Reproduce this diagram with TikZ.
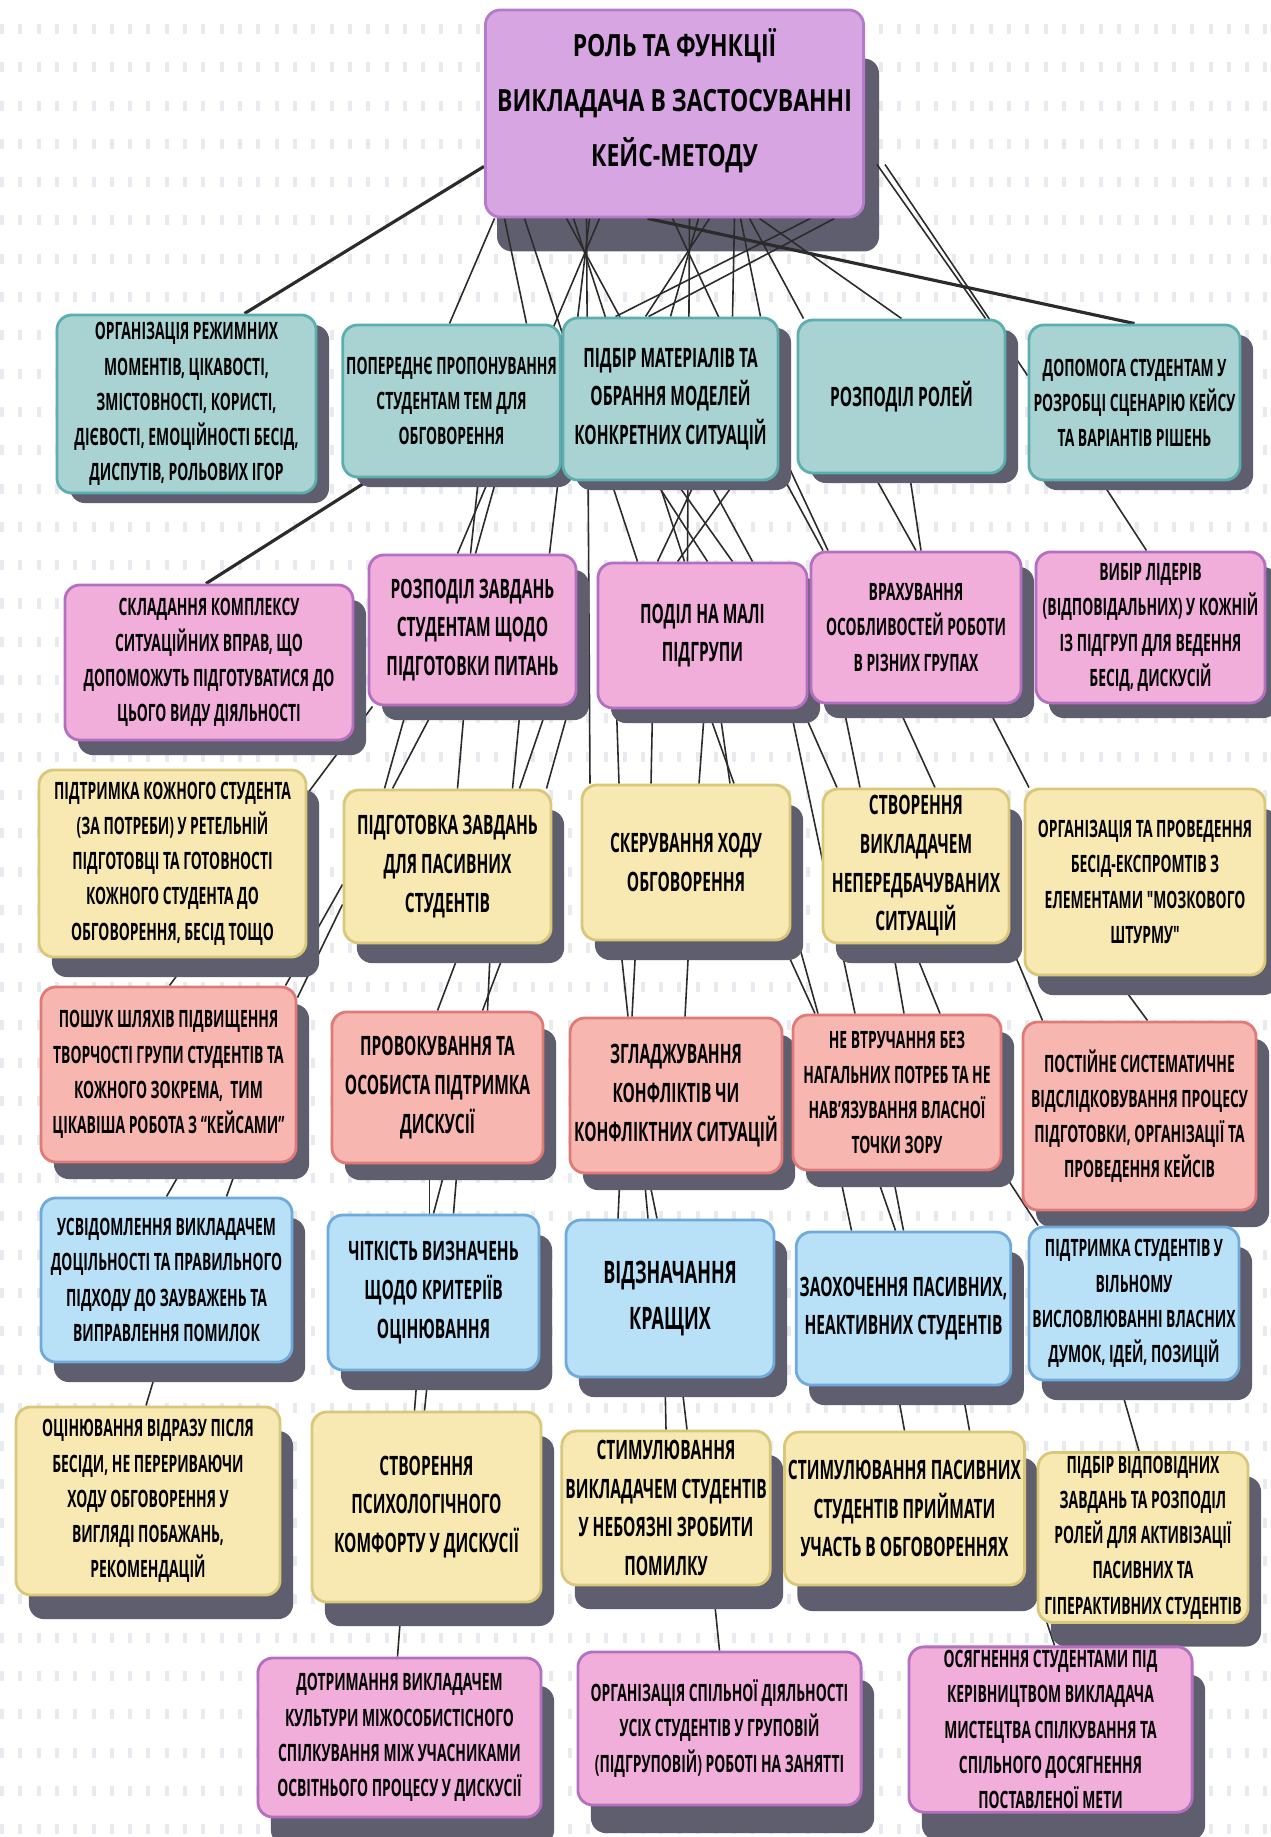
\documentclass[tikz,border=0pt]{standalone}
\usepackage{fontspec}
\newfontfamily\cardfamily{Open Sans}[FakeStretch=0.58]
\newfontfamily\headfamily{Open Sans}[FakeStretch=0.75]
\usetikzlibrary{calc,shadows}

\pgfdeclarelayer{back}
\pgfdeclarelayer{links}
\pgfsetlayers{back,links,main}

\definecolor{rootfill}{HTML}{D6A5E2}
\definecolor{rootline}{HTML}{B57BCB}
\definecolor{tealfill}{HTML}{A9D3D3}
\definecolor{tealline}{HTML}{5DAFAF}
\definecolor{pinkfill}{HTML}{F1AEDA}
\definecolor{pinkline}{HTML}{B56FC0}
\definecolor{sandfill}{HTML}{F8E9B3}
\definecolor{sandline}{HTML}{D9C77A}
\definecolor{coralfill}{HTML}{F7B7B0}
\definecolor{coralline}{HTML}{E07A78}
\definecolor{skyfill}{HTML}{B8E0F7}
\definecolor{skyline}{HTML}{6FAADB}
\definecolor{shadowgray}{HTML}{5E5E6E}
\definecolor{tickgray}{HTML}{E8EAF0}
\definecolor{linkgray}{HTML}{2B2B2B}

\tikzset{
  card/.style={rounded corners=0.15cm, line width=0.8pt, align=center, inner sep=1pt,
    font=\cardfamily\bfseries\fontsize{6.8}{10}\selectfont},
  bigtext/.style={font=\cardfamily\bfseries\fontsize{7.6}{11}\selectfont},
  hugetext/.style={font=\cardfamily\bfseries\fontsize{8.8}{12.8}\selectfont},
  dims/.style 2 args={minimum width=#1cm, minimum height=#2cm},
  castshadow/.style={drop shadow={shadow xshift=0.13cm, shadow yshift=-#1cm,
    fill=shadowgray, opacity=1}},
  rolebox/.style={rounded corners=0.15cm, line width=0.8pt, align=center,
    fill=rootfill, draw=rootline, text depth=0.32cm,
    font=\headfamily\bfseries\fontsize{8.7}{15.6}\selectfont},
  tealcard/.style={card, fill=tealfill, draw=tealline, castshadow=#1},
  tealcard/.default=0.10,
  pinkcard/.style={card, fill=pinkfill, draw=pinkline, castshadow=#1},
  pinkcard/.default=0.15,
  sandcard/.style={card, fill=sandfill, draw=sandline, castshadow=#1},
  sandcard/.default=0.20,
  coralcard/.style={card, fill=coralfill, draw=coralline, castshadow=#1},
  coralcard/.default=0.17,
  skycard/.style={card, fill=skyfill, draw=skyline, castshadow=#1},
  skycard/.default=0.20,
  link/.style={draw=linkgray, line width=0.45pt},
  heavy/.style={link, line width=0.9pt},
  ticks/.style={draw=tickgray, line width=0.1cm, dash pattern=on 0.04cm off 0.143cm},
}

\begin{document}
\begin{tikzpicture}[x=0.01cm, y=-0.01cm]
  \useasboundingbox (0,0) rectangle (1271,1837);

  % Title
  \node[rolebox, dims={3.69}{2.07}] (root) at (674.5,113.5)
    {РОЛЬ ТА ФУНКЦІЇ\\ВИКЛАДАЧА В ЗАСТОСУВАННІ\\КЕЙС-МЕТОДУ};

  % Row 1
  \node[tealcard, dims={2.59}{1.78}] (a1) at (186.5,404)
    {ОРГАНІЗАЦІЯ РЕЖИМНИХ\\МОМЕНТІВ, ЦІКАВОСТІ,\\ЗМІСТОВНОСТІ, КОРИСТІ,\\ДІЄВОСТІ, ЕМОЦІЙНОСТІ БЕСІД,\\ДИСПУТІВ, РОЛЬОВИХ ІГОР};
  \node[tealcard, dims={2.15}{1.52}] (a2) at (451.5,401)
    {ПОПЕРЕДНЄ ПРОПОНУВАННЯ\\СТУДЕНТАМ ТЕМ ДЛЯ\\ОБГОВОРЕННЯ};
  \node[tealcard, bigtext, dims={2.15}{1.62}] (a3) at (670.5,399)
    {ПІДБІР МАТЕРІАЛІВ ТА\\ОБРАННЯ МОДЕЛЕЙ\\КОНКРЕТНИХ СИТУАЦІЙ};
  \node[tealcard, bigtext, dims={2.07}{1.53}] (a4) at (901.5,396.5)
    {РОЗПОДІЛ РОЛЕЙ};
  \node[tealcard, dims={2.11}{1.55}] (a5) at (1134.5,402.5)
    {ДОПОМОГА СТУДЕНТАМ У\\РОЗРОБЦІ СЦЕНАРІЮ КЕЙСУ\\ТА ВАРІАНТІВ РІШЕНЬ};

  % Row 2
  \node[pinkcard, dims={2.88}{1.55}] (b1) at (209,662.5)
    {СКЛАДАННЯ КОМПЛЕКСУ\\СИТУАЦІЙНИХ ВПРАВ, ЩО\\ДОПОМОЖУТЬ ПІДГОТУВАТИСЯ ДО\\ЦЬОГО ВИДУ ДІЯЛЬНОСТІ};
  \node[pinkcard, bigtext, dims={2.07}{1.50}] (b2) at (472.5,630)
    {РОЗПОДІЛ ЗАВДАНЬ\\СТУДЕНТАМ ЩОДО\\ПІДГОТОВКИ ПИТАНЬ};
  \node[pinkcard, bigtext, dims={2.09}{1.45}] (b3) at (702.5,635.5)
    {ПОДІЛ НА МАЛІ\\ПІДГРУПИ};
  \node[pinkcard, dims={2.10}{1.51}] (b4) at (916,627.5)
    {ВРАХУВАННЯ\\ОСОБЛИВОСТЕЙ РОБОТИ\\В РІЗНИХ ГРУПАХ};
  \node[pinkcard, dims={2.29}{1.51}] (b5) at (1150.5,627.5)
    {ВИБІР ЛІДЕРІВ\\(ВІДПОВІДАЛЬНИХ) У КОЖНІЙ\\ІЗ ПІДГРУП ДЛЯ ВЕДЕННЯ\\БЕСІД, ДИСКУСІЙ};

  % Row 3
  \node[sandcard, dims={2.67}{1.87}] (c1) at (172.5,863.5)
    {ПІДТРИМКА КОЖНОГО СТУДЕНТА\\(ЗА ПОТРЕБИ) У РЕТЕЛЬНІЙ\\ПІДГОТОВЦІ ТА ГОТОВНОСТІ\\КОЖНОГО СТУДЕНТА ДО\\ОБГОВОРЕННЯ, БЕСІД ТОЩО};
  \node[sandcard, bigtext, dims={2.07}{1.53}] (c2) at (447.5,866.5)
    {ПІДГОТОВКА ЗАВДАНЬ\\ДЛЯ ПАСИВНИХ\\СТУДЕНТІВ};
  \node[sandcard, bigtext, dims={2.08}{1.55}] (c3) at (686,862.5)
    {СКЕРУВАННЯ ХОДУ\\ОБГОВОРЕННЯ};
  \node[sandcard, bigtext, dims={1.86}{1.54}] (c4) at (916,866)
    {СТВОРЕННЯ\\ВИКЛАДАЧЕМ\\НЕПЕРЕДБАЧУВАНИХ\\СИТУАЦІЙ};
  \node[sandcard, dims={2.40}{1.86}] (c5) at (1145,882)
    {ОРГАНІЗАЦІЯ ТА ПРОВЕДЕННЯ\\БЕСІД-ЕКСПРОМТІВ З\\ЕЛЕМЕНТАМИ "МОЗКОВОГО\\ШТУРМУ"};

  % Row 4
  \node[coralcard, dims={2.55}{1.75}] (d1) at (168.5,1074.5)
    {ПОШУК ШЛЯХІВ ПІДВИЩЕННЯ\\ТВОРЧОСТІ ГРУПИ СТУДЕНТІВ ТА\\КОЖНОГО ЗОКРЕМА,~ ТИМ\\ЦІКАВІША РОБОТА З “КЕЙСАМИ”};
  \node[coralcard, bigtext, dims={2.11}{1.51}] (d2) at (437.5,1087.5)
    {ПРОВОКУВАННЯ ТА\\ОСОБИСТА ПІДТРИМКА\\ДИСКУСІЇ};
  \node[coralcard, bigtext, dims={2.12}{1.55}] (d3) at (676,1095.5)
    {ЗГЛАДЖУВАННЯ\\КОНФЛІКТІВ ЧИ\\КОНФЛІКТНИХ СИТУАЦІЙ};
  \node[coralcard, dims={2.08}{1.55}] (d4) at (897,1092.5)
    {НЕ ВТРУЧАННЯ БЕЗ\\НАГАЛЬНИХ ПОТРЕБ ТА НЕ\\НАВ’ЯЗУВАННЯ ВЛАСНОЇ\\ТОЧКИ ЗОРУ};
  \node[coralcard, dims={2.33}{1.88}] (d5) at (1139.5,1116)
    {ПОСТІЙНЕ СИСТЕМАТИЧНЕ\\ВІДСЛІДКОВУВАННЯ ПРОЦЕСУ\\ПІДГОТОВКИ, ОРГАНІЗАЦІЇ ТА\\ПРОВЕДЕННЯ КЕЙСІВ};

  % Row 5
  \node[skycard, dims={2.51}{1.64}] (e1) at (166.5,1280)
    {УСВІДОМЛЕННЯ ВИКЛАДАЧЕМ\\ДОЦІЛЬНОСТІ ТА ПРАВИЛЬНОГО\\ПІДХОДУ ДО ЗАУВАЖЕНЬ ТА\\ВИПРАВЛЕННЯ ПОМИЛОК};
  \node[skycard, bigtext, dims={2.11}{1.55}] (e2) at (433.5,1292.5)
    {ЧІТКІСТЬ ВИЗНАЧЕНЬ\\ЩОДО КРИТЕРІЇВ\\ОЦІНЮВАННЯ};
  \node[skycard, hugetext, dims={2.08}{1.57}] (e3) at (670,1298.5)
    {ВІДЗНАЧАННЯ\\КРАЩИХ};
  \node[skycard, bigtext, dims={2.11}{1.53}] (e4) at (903.5,1308.5)
    {ЗАОХОЧЕННЯ ПАСИВНИХ,\\НЕАКТИВНИХ СТУДЕНТІВ};
  \node[skycard, dims={2.10}{1.53}] (e5) at (1134,1303.5)
    {ПІДТРИМКА СТУДЕНТІВ У\\ВІЛЬНОМУ\\ВИСЛОВЛЮВАННІ ВЛАСНИХ\\ДУМОК, ІДЕЙ, ПОЗИЦІЙ};

  % Row 6
  \node[sandcard=0.24, dims={2.64}{1.88}] (f1) at (148,1501)
    {ОЦІНЮВАННЯ ВІДРАЗУ ПІСЛЯ\\БЕСІДИ, НЕ ПЕРЕРИВАЮЧИ\\ХОДУ ОБГОВОРЕННЯ У\\ВИГЛЯДІ ПОБАЖАНЬ,\\РЕКОМЕНДАЦІЙ};
  \node[sandcard=0.24, bigtext, dims={2.29}{1.90}] (f2) at (426.5,1507)
    {СТВОРЕННЯ\\ПСИХОЛОГІЧНОГО\\КОМФОРТУ У ДИСКУСІЇ};
  \node[sandcard=0.24, bigtext, dims={2.08}{1.54}] (f3) at (666,1508)
    {СТИМУЛЮВАННЯ\\ВИКЛАДАЧЕМ СТУДЕНТІВ\\У НЕБОЯЗНІ ЗРОБИТИ\\ПОМИЛКУ};
  \node[sandcard=0.26, bigtext, dims={2.09}{1.53}] (f4) at (904.5,1508.5)
    {СТИМУЛЮВАННЯ ПАСИВНИХ\\СТУДЕНТІВ ПРИЙМАТИ\\УЧАСТЬ В ОБГОВОРЕННЯХ};
  \node[sandcard=0.24, dims={2.10}{1.59}] (f5) at (1143,1537.5)
    {ПІДБІР ВІДПОВІДНИХ\\ЗАВДАНЬ ТА РОЗПОДІЛ\\РОЛЕЙ ДЛЯ АКТИВІЗАЦІЇ\\ПАСИВНИХ ТА\\ГІПЕРАКТИВНИХ СТУДЕНТІВ};

  % Row 7
  \node[pinkcard=0.28, dims={2.83}{1.59}] (g1) at (399.5,1737.5)
    {ДОТРИМАННЯ ВИКЛАДАЧЕМ\\КУЛЬТУРИ МІЖОСОБИСТІСНОГО\\СПІЛКУВАННЯ МІЖ УЧАСНИКАМИ\\ОСВІТНЬОГО ПРОЦЕСУ У ДИСКУСІЇ};
  \node[pinkcard=0.28, dims={2.83}{1.53}] (g2) at (719.5,1728.5)
    {ОРГАНІЗАЦІЯ СПІЛЬНОЇ ДІЯЛЬНОСТІ\\УСІХ СТУДЕНТІВ У ГРУПОВІЙ\\(ПІДГРУПОВІЙ) РОБОТІ НА ЗАНЯТТІ};
  \node[pinkcard=0.28, dims={2.83}{1.55}] (g3) at (1050.5,1729.5)
    {ОСЯГНЕННЯ СТУДЕНТАМИ ПІД\\КЕРІВНИЦТВОМ ВИКЛАДАЧА\\МИСТЕЦТВА СПІЛКУВАННЯ ТА\\СПІЛЬНОГО ДОСЯГНЕННЯ\\ПОСТАВЛЕНОЇ МЕТИ};

  % Paper with tick rows, and the title's shadow
  \begin{pgfonlayer}{back}
    \fill[white] (0,0) rectangle (1271,1837);
    \foreach \r in {0,...,47}
      \draw[ticks] (0,{29+38.3*\r}) -- (1271,{29+38.3*\r});
    \fill[shadowgray, rounded corners=0.15cm]
      ($(root.north west)+(13,50)$) rectangle ($(root.south east)+(14,33)$);
  \end{pgfonlayer}

  \begin{pgfonlayer}{links}
    % title to rows 1-3
    \draw[heavy] ($(root.south west)+(0,-52)$) -- ($(a1.north)+(58,0)$);
    \draw[link] ($(root.south)+(-180,0)$) -- ($(a2.north)+(-2,0)$);
    \draw[link] ($(root.south)+(-170,0)$) -- ($(a2.north)+(75,0)$);
    \draw[link] ($(root.south)+(-150,0)$) -- ($(b3.north)+(-65,0)$);
    \draw[link] ($(root.south)+(-75,0)$) -- ($(b2.north)+(-15,0)$);
    \draw[link] ($(root.south)+(-85,0)$) -- ($(b2.north)+(77,0)$);
    \draw[link] ($(root.south)+(-88,0)$) -- ($(c3.north)+(-96,0)$);
    \draw[link] ($(root.south)+(-101,0)$) -- ($(b3.north)+(-18,0)$);
    \draw[link] ($(root.south)+(-108,0)$) -- ($(b3.north)+(50,0)$);
    \draw[link] ($(root.south)+(136,0)$) -- ($(a3.north)+(-55,0)$);
    \draw[link] ($(root.south)+(160,0)$) -- ($(a3.north)+(-22,0)$);
    \draw[link] ($(root.south)+(35,0)$) -- ($(a3.north)+(-25,0)$);
    \draw[link] ($(root.south)+(24,0)$) -- (a3.north);
    \draw[link] ($(root.south)+(15,0)$) -- ($(b3.north)+(-15,0)$);
    \draw[link] ($(root.south)+(-2,0)$) -- ($(b4.north)+(-88,0)$);
    \draw[link] ($(root.south)+(60,0)$) -- ($(a3.north)+(62,0)$);
    \draw[link] ($(root.south)+(66,0)$) -- ($(a3.north)+(90,0)$);
    \draw[link] ($(root.south)+(75,0)$) -- ($(a4.north)+(-98,0)$);
    \draw[heavy] ($(root.south)+(-27,0)$) -- (a5.north);
    \draw[link] ($(root.south)+(85,0)$) -- (a4.north);
    \draw[link] ($(root.south east)+(12,-54)$) -- ($(a4.north)+(84,0)$);
    \draw[link] ($(root.south east)+(20,-54)$) -- ($(a5.north west)+(0,52)$);

    % row 1 to row 2
    \draw[heavy] ($(a2.south)+(-80,0)$) -- ($(b1.north)+(-3,0)$);
    \draw[link] ($(a2.south)+(27,0)$) -- ($(b2.north)+(-2,0)$);
    \draw[link] ($(a2.south)+(45,0)$) -- ($(b2.north)+(3,0)$);
    \draw[link] ($(a3.south)+(-15,0)$) -- ($(b3.north)+(5,0)$);
    \draw[link] ($(a3.south)+(5,0)$) -- ($(b3.north)+(30,0)$);
    \draw[link] ($(a3.south)+(25,0)$) -- ($(b3.north)+(-45,0)$);
    \draw[link] ($(a3.south)+(65,0)$) -- ($(b3.north)+(-25,0)$);
    \draw[link] ($(a3.south)+(115,0)$) -- ($(b4.north)+(-93,0)$);
    \draw[link] ($(a4.south)+(-28,0)$) -- (b4.north);
    \draw[link] ($(a4.south)+(8,0)$) -- ($(b4.north)+(5,0)$);
    \draw[link] ($(a5.south)+(-33,0)$) -- ($(b5.north)+(-4,0)$);

    % row 2 to row 3
    \draw[link] ($(b2.south)+(-100,0)$) -- ($(c1.north east)+(0,25)$);
    \draw[link] ($(b2.south)+(-65,0)$) -- ($(c2.north)+(-63,0)$);
    \draw[link] ($(b2.south)+(-37,0)$) -- ($(c2.north)+(-55,0)$);
    \draw[link] ($(b2.south)+(-8,0)$) -- ($(c2.north)+(10,0)$);
    \draw[link] ($(b2.south)+(48,0)$) -- ($(c2.north)+(65,0)$);
    \draw[link] ($(b2.south)+(75,0)$) -- ($(c2.north)+(72,0)$);
    \draw[link] ($(b2.south)+(97,0)$) -- ($(c2.north)+(99,0)$);
    \draw[link] ($(b3.south)+(-86,0)$) -- ($(c3.north)+(-67,0)$);
    \draw[link] ($(b3.south)+(-50,0)$) -- ($(c3.north)+(-35,0)$);
    \draw[link] ($(b3.south)+(2,0)$) -- ($(c3.north)+(13,0)$);
    \draw[link] ($(b3.south)+(5,0)$) -- ($(c3.north)+(48,0)$);
    \draw[link] ($(b3.south)+(17,0)$) -- ($(c3.north)+(44,0)$);
    \draw[link] ($(b3.south)+(88,0)$) -- ($(d4.north)+(-42,0)$);
    \draw[link] ($(b3.south)+(100,0)$) -- ($(c4.north)+(-79,0)$);
    \draw[link] ($(b4.south)+(-73,0)$) -- ($(c4.north)+(-56,0)$);
    \draw[link] ($(b4.south)+(-19,0)$) -- ($(c4.north)+(19,0)$);
    \draw[link] ($(b4.south)+(70,0)$) -- ($(c5.north)+(-116,0)$);

    % row 3 to row 4
    \draw[link] ($(c1.south)+(17,0)$) -- ($(d1.north)+(1,0)$);
    \draw[link] ($(c2.south west)+(0,-60)$) -- ($(d1.north east)+(-12,0)$);
    \draw[link] ($(c2.south west)+(0,-40)$) -- ($(d1.north east)+(0,12)$);
    \draw[link] ($(c2.south)+(15,0)$) -- (d2.north);
    \draw[link] ($(c2.south)+(60,0)$) -- ($(d2.north)+(45,0)$);
    \draw[link] ($(c2.south)+(43,0)$) -- ($(d2.north)+(50,0)$);
    \draw[link] ($(c3.south)+(-66,0)$) -- ($(d3.north)+(-48,0)$);
    \draw[link] ($(c3.south)+(-50,0)$) -- ($(d3.north)+(-44,0)$);
    \draw[link] ($(c3.south)+(3,0)$) -- ($(d3.north)+(9,0)$);
    \draw[link] ($(c3.south)+(96,0)$) -- ($(d4.north)+(-82,0)$);
    \draw[link] ($(c3.south)+(112,0)$) -- ($(d4.north)+(-79,0)$);
    \draw[link] ($(c4.south)+(-24,0)$) -- ($(d4.north)+(7,0)$);
    \draw[link] ($(c4.south)+(-4,0)$) -- ($(d4.north)+(43,0)$);
    \draw[link] (c4.south east) -- ($(d5.north)+(-97,0)$);
    \draw[link] ($(c5.south)+(-30,0)$) -- ($(d5.north)+(8,0)$);

    % row 4 to row 5
    \draw[link] ($(d1.south)+(17,0)$) -- (e1.north);
    \draw[link] ($(d1.south)+(70,0)$) -- ($(e1.north)+(60,0)$);
    \draw[link] ($(d2.south)+(9,0)$) -- (e2.north);
    \draw[link] ($(d2.south)+(20,0)$) -- ($(e2.north)+(20,0)$);
    \draw[link] ($(d2.south)+(-8,0)$) -- ($(e2.north)+(-4,0)$);
    \draw[link] ($(d3.south)+(-56,0)$) -- ($(e3.north)+(-52,0)$);
    \draw[link] ($(d3.south)+(-28,0)$) -- ($(e3.north)+(-13,0)$);
    \draw[link] ($(d3.south)+(-32,0)$) -- ($(e3.north)+(-22,0)$);
    \draw[link] ($(d4.south)+(-58,0)$) -- ($(e4.north)+(-52,0)$);
    \draw[link] ($(d4.south)+(-22,0)$) -- ($(e4.north)+(-8,0)$);
    \draw[link] ($(d4.south)+(-5,0)$) -- (e4.north);
    \draw[link] (d4.south east) -- ($(e5.north)+(-96,0)$);
    \draw[link] ($(d5.south)+(-12,0)$) -- ($(e5.north)+(1,0)$);

    % row 5 to row 6
    \draw[link] ($(e1.south)+(-8,0)$) -- ($(f1.north)+(-2,0)$);
    \draw[link] ($(e2.south)+(-16,0)$) -- ($(f2.north)+(-12,0)$);
    \draw[link] ($(e2.south)+(-5,0)$) -- ($(f2.north)+(-2,0)$);
    \draw[link] ($(e3.south)+(-5,0)$) -- (f3.north);
    \draw[link] ($(e3.south)+(11,0)$) -- ($(f3.north)+(21,0)$);
    \draw[link] ($(e4.south)+(-7,0)$) -- (f4.north);
    \draw[link] ($(e4.south)+(58,0)$) -- ($(f4.north)+(65,0)$);
    \draw[link] ($(e5.south)+(-15,0)$) -- ($(f5.north)+(-4,0)$);

    % row 6 to row 7
    \draw[link] ($(f2.south)+(-25,0)$) -- ($(g1.north)+(-2,0)$);
    \draw[link] ($(f3.south)+(47,0)$) -- (g2.north);
    \draw[link] ($(f4.south east)+(4,-15)$) -- ($(g3.north)+(4,0)$);
  \end{pgfonlayer}
\end{tikzpicture}
\end{document}
